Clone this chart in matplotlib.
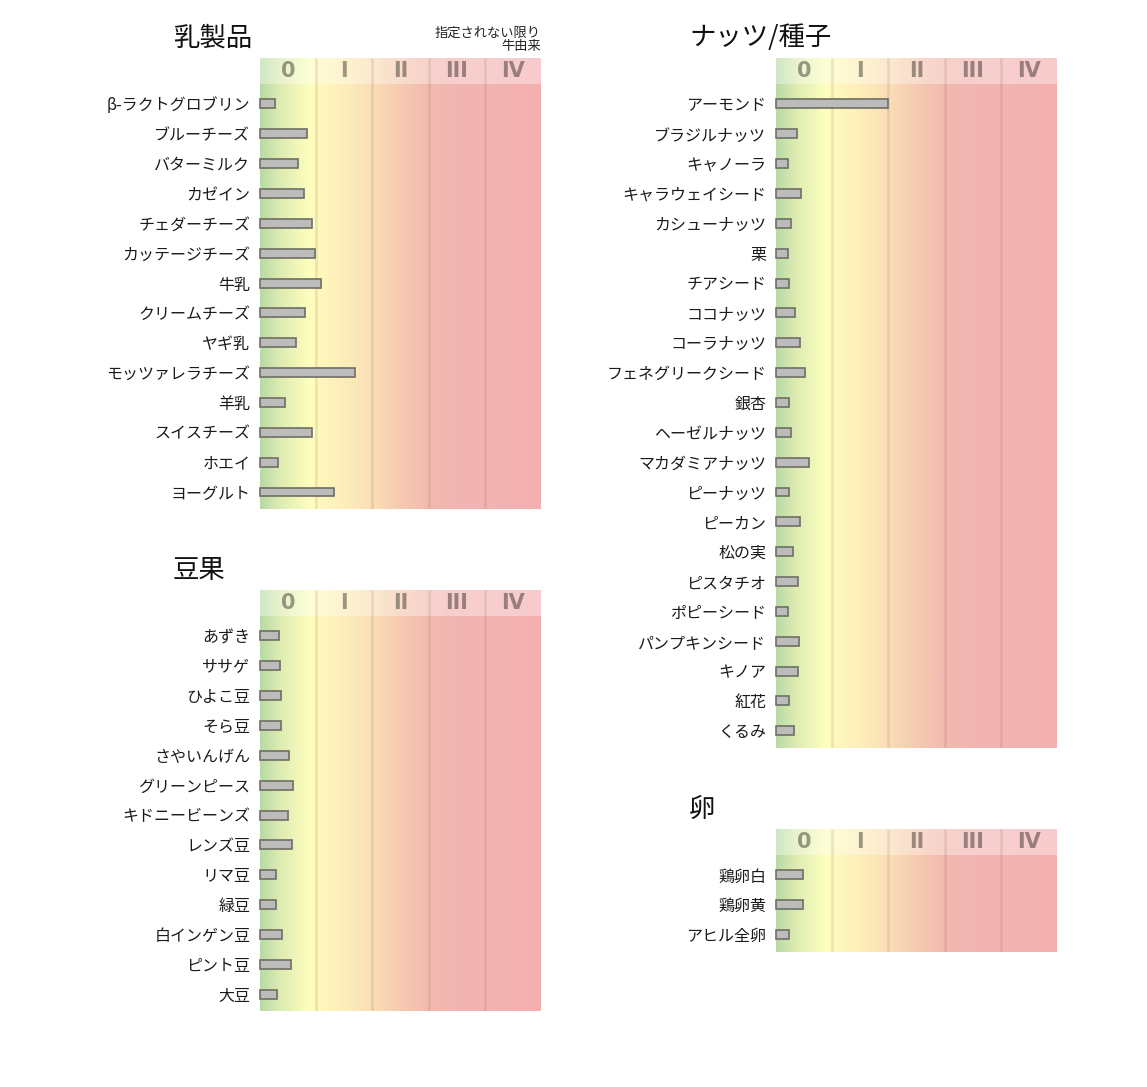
import matplotlib
matplotlib.use("Agg")
import matplotlib.pyplot as plt
import numpy as np
from matplotlib.colors import LinearSegmentedColormap

plt.rcParams['font.family'] = ['Noto Sans CJK JP', 'DejaVu Sans']

classes = ["0", "I", "II", "III", "IV"]

dairy_labels = ["β-ラクトグロブリン", "ブルーチーズ", "バターミルク", "カゼイン", "チェダーチーズ",
                "カッテージチーズ", "牛乳", "クリームチーズ", "ヤギ乳", "モッツァレラチーズ",
                "羊乳", "スイスチーズ", "ホエイ", "ヨーグルト"]
dairy_values = [0.26, 0.84, 0.67, 0.79, 0.92, 0.98, 1.08, 0.80, 0.64, 1.69, 0.44, 0.93, 0.32, 1.31]

legume_labels = ["あずき", "ササゲ", "ひよこ豆", "そら豆", "さやいんげん", "グリーンピース",
                 "キドニービーンズ", "レンズ豆", "リマ豆", "緑豆", "白インゲン豆", "ピント豆", "大豆"]
legume_values = [0.34, 0.36, 0.37, 0.38, 0.52, 0.59, 0.50, 0.57, 0.29, 0.28, 0.39, 0.55, 0.31]

nut_labels = ["アーモンド", "ブラジルナッツ", "キャノーラ", "キャラウェイシード", "カシューナッツ",
              "栗", "チアシード", "ココナッツ", "コーラナッツ", "フェネグリークシード", "銀杏",
              "ヘーゼルナッツ", "マカダミアナッツ", "ピーナッツ", "ピーカン", "松の実",
              "ピスタチオ", "ポピーシード", "パンプキンシード", "キノア", "紅花", "くるみ"]
nut_values = [1.99, 0.38, 0.21, 0.45, 0.27, 0.21, 0.23, 0.34, 0.43, 0.51, 0.23,
              0.27, 0.59, 0.24, 0.42, 0.30, 0.39, 0.21, 0.41, 0.39, 0.24, 0.32]

egg_labels = ["鶏卵白", "鶏卵黄", "アヒル全卵"]
egg_values = [0.48, 0.48, 0.24]

W, H = 1147, 1087
fig = plt.figure(figsize=(W / 100, H / 100), dpi=100)

ROW = 29.85
BAND_TOP = -1.54
BAND_BOT = -0.67
BOTTOM_PAD = 0.58

stops = [
    (0.0, (184, 218, 166)),
    (0.35, (222, 236, 178)),
    (0.9, (255, 255, 190)),
    (1.0, (255, 250, 190)),
    (1.5, (253, 238, 185)),
    (2.0, (250, 222, 182)),
    (2.5, (246, 202, 176)),
    (3.0, (243, 186, 176)),
    (3.5, (242, 181, 178)),
    (4.0, (243, 180, 180)),
    (5.0, (245, 176, 176)),
]
cmap = LinearSegmentedColormap.from_list(
    "allergy", [(p / 5.0, tuple(c / 255 for c in col)) for p, col in stops])
grad = np.linspace(0, 1, 512)[None, :]


def panel(left_px, top_px, labels, values, title, note=None):
    n = len(labels)
    bottom_y = n - 1 + BOTTOM_PAD
    h_rows = bottom_y - BAND_TOP
    h_px = h_rows * ROW
    w_px = 281
    ax = fig.add_axes([left_px / W, 1 - (top_px + h_px) / H, w_px / W, h_px / H])
    ax.set_xlim(0, 5)
    ax.set_ylim(bottom_y, BAND_TOP)
    ax.imshow(grad, cmap=cmap, extent=[0, 5, bottom_y, BAND_BOT], aspect='auto',
              interpolation='bilinear', zorder=0)
    # header band (lighter)
    ax.imshow(grad, cmap=cmap, extent=[0, 5, BAND_BOT, BAND_TOP], aspect='auto',
              interpolation='bilinear', zorder=0)
    ax.axhspan(BAND_TOP, BAND_BOT, color='white', alpha=0.35, lw=0, zorder=1)
    for x in range(1, 5):
        ax.plot([x, x], [bottom_y, BAND_TOP], color=(0.55, 0.42, 0.3), alpha=0.15,
                lw=2, zorder=2, solid_capstyle='butt')
    for i, c in enumerate(classes):
        ax.text(i + 0.5, (BAND_TOP + BAND_BOT) / 2, c, ha='center', va='center',
                fontsize=15, fontweight='bold', family='DejaVu Sans',
                color='black', alpha=0.38, zorder=3)
    y = np.arange(n)
    ax.barh(y, values, height=0.3, left=0, color='#bcbcbc', edgecolor='#6f6f62',
            linewidth=1.2, zorder=4, clip_on=False)
    ax.set_yticks(y)
    ax.set_yticklabels(labels, fontsize=11.5, color='#1a1a1a')
    ax.tick_params(axis='y', length=0, pad=7)
    ax.set_xticks([])
    for s in ax.spines.values():
        s.set_visible(False)
    fig.text((left_px - 87) / W, 1 - (top_px - 20) / H, title, fontsize=19,
             fontweight='normal', ha='left', va='center', color='#111111')
    if note:
        fig.text((left_px + w_px) / W, 1 - (top_px - 18) / H, note, fontsize=9.5,
                 ha='right', va='center', color='#222222', linespacing=1.0)
    return ax


panel(260, 58, dairy_labels, dairy_values, "乳製品", note="指定されない限り\n牛由来")
panel(260, 590, legume_labels, legume_values, "豆果")
panel(776, 58, nut_labels, nut_values, "ナッツ/種子")
panel(776, 829, egg_labels, egg_values, "卵")

fig.savefig("out.png", dpi=100)
